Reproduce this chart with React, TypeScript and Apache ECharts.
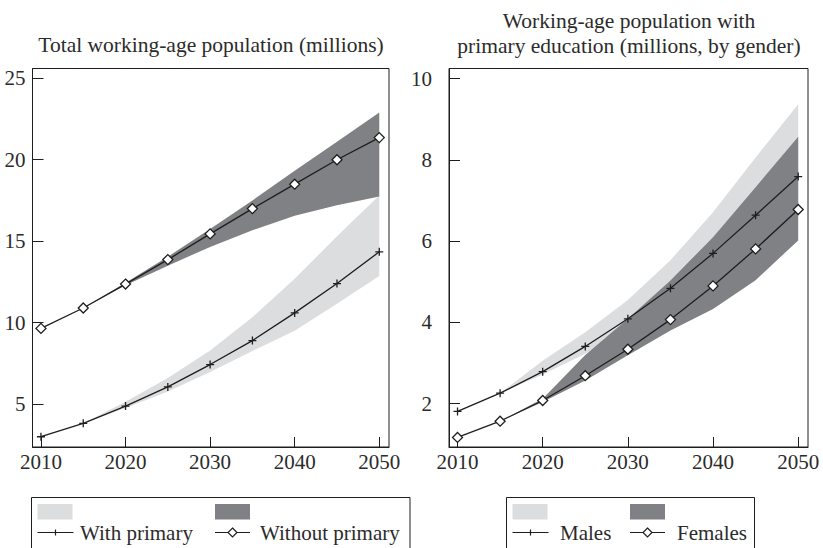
import React, { useEffect, useRef } from "react";
import * as echarts from "echarts";

const years = [2010, 2015, 2020, 2025, 2030, 2035, 2040, 2045, 2050];
const xTicks = [2010, 2020, 2030, 2040, 2050];
const leftYTicks = [5, 10, 15, 20, 25];
const rightYTicks = [2, 4, 6, 8, 10];

// Left panel: total working-age population (millions)
const withPrimary = [3.0, 3.82, 4.88, 6.06, 7.43, 8.9, 10.6, 12.4, 14.35];
const withPrimaryLow = [3.0, 3.82, 4.76, 5.78, 6.98, 8.26, 9.51, 11.16, 12.86];
const withPrimaryHigh = [3.0, 3.82, 5.14, 6.6, 8.3, 10.33, 12.7, 15.3, 17.8];
const withoutPrimary = [9.65, 10.9, 12.37, 13.87, 15.45, 17.0, 18.5, 20.0, 21.36];
const withoutPrimaryLow = [9.65, 10.9, 12.3, 13.5, 14.65, 15.67, 16.57, 17.2, 17.74];
const withoutPrimaryHigh = [9.65, 10.9, 12.45, 14.05, 15.75, 17.5, 19.33, 21.1, 22.9];

// Right panel: working-age population with primary education, by gender
const males = [1.81, 2.26, 2.79, 3.41, 4.09, 4.84, 5.7, 6.64, 7.59];
const malesLow = [1.81, 2.26, 2.72, 3.23, 3.88, 4.6, 5.3, 6.1, 6.9];
const malesHigh = [1.81, 2.26, 3.06, 3.76, 4.55, 5.53, 6.71, 8.06, 9.37];
const females = [1.17, 1.57, 2.08, 2.69, 3.34, 4.07, 4.9, 5.81, 6.78];
const femalesLow = [1.17, 1.57, 2.04, 2.57, 3.19, 3.8, 4.33, 5.04, 6.02];
const femalesHigh = [1.17, 1.57, 2.12, 3.2, 4.09, 5.03, 6.1, 7.33, 8.57];

const leftTitle = "Total working-age population (millions)";
const rightTitle1 = "Working-age population with";
const rightTitle2 = "primary education (millions, by gender)";
const legendLeft = ["With primary", "Without primary"];
const legendRight = ["Males", "Females"];

const LIGHT = "#dcdddf";
const DARK = "#808184";
const INK = "#1e1e1e";
const TEXT = "#2b2b2b";
const FONT = "Liberation Serif";
const PLUS = "path://M5,0L5,10M0,5L10,5";

function band(idx: number, low: number[], high: number[], color: string) {
  return {
    type: "custom",
    xAxisIndex: idx,
    yAxisIndex: idx,
    silent: true,
    z: 1,
    data: [[2030, 0]],
    renderItem: (_p: any, api: any) => {
      const pts: number[][] = [];
      for (let i = 0; i < years.length; i++) pts.push(api.coord([years[i], high[i]]));
      for (let i = years.length - 1; i >= 0; i--) pts.push(api.coord([years[i], low[i]]));
      return { type: "polygon", shape: { points: pts }, style: { fill: color, stroke: null } };
    },
  };
}

function line(idx: number, vals: number[], kind: "plus" | "diamond") {
  return {
    type: "line",
    xAxisIndex: idx,
    yAxisIndex: idx,
    z: 5,
    silent: true,
    data: years.map((y, i) => [y, vals[i]]),
    symbol: kind === "plus" ? PLUS : "diamond",
    symbolSize: kind === "plus" ? 8 : 10,
    showSymbol: true,
    lineStyle: { color: INK, width: 1.3 },
    itemStyle:
      kind === "plus"
        ? { color: INK, borderColor: INK, borderWidth: 1.3 }
        : { color: "#ffffff", borderColor: INK, borderWidth: 1.3 },
    emphasis: { disabled: true },
  };
}

function xAxis(idx: number) {
  return {
    type: "value",
    gridIndex: idx,
    min: 2009,
    max: 2051.15,
    axisLine: { show: true, lineStyle: { color: INK, width: 1 } },
    axisTick: { show: true, inside: true, length: 10, customValues: xTicks, lineStyle: { color: INK } },
    axisLabel: {
      customValues: xTicks,
      formatter: (v: number) => String(v),
      margin: 4,
      color: TEXT,
      fontFamily: FONT,
      fontSize: 21,
    },
    splitLine: { show: false },
  };
}

function yAxis(idx: number, min: number, max: number, ticks: number[], margin: number) {
  return {
    type: "value",
    gridIndex: idx,
    min,
    max,
    axisLine: { show: true, lineStyle: { color: INK, width: 1 } },
    axisTick: { show: true, inside: true, length: 11, customValues: ticks, lineStyle: { color: INK } },
    axisLabel: {
      customValues: ticks,
      formatter: (v: number) => String(v),
      margin,
      color: TEXT,
      fontFamily: FONT,
      fontSize: 21,
    },
    splitLine: { show: false },
  };
}

function txt(x: number, y: number, text: string, align: string, size = 21) {
  return {
    type: "text",
    x,
    y,
    style: { text, fontFamily: FONT, fontSize: size, fill: TEXT, align, verticalAlign: "middle" },
  };
}

function legendGraphics(x0: number, x1: number, darkX: number, t1x: number, t2x: number, labels: string[]) {
  const top = 497.5;
  const swY = 504;
  const lineY = 532.5;
  const els: any[] = [
    { type: "rect", shape: { x: x0, y: top, width: x1 - x0, height: 80 }, style: { fill: "#fff", stroke: INK, lineWidth: 1 } },
    { type: "rect", shape: { x: x0 + 6, y: swY, width: 35, height: 15.5 }, style: { fill: LIGHT } },
    { type: "rect", shape: { x: darkX, y: swY, width: 35, height: 15.5 }, style: { fill: DARK } },
    { type: "line", shape: { x1: x0 + 6, y1: lineY, x2: x0 + 42, y2: lineY }, style: { stroke: INK, lineWidth: 1.2 } },
    { type: "line", shape: { x1: x0 + 24, y1: lineY - 3, x2: x0 + 24, y2: lineY + 3 }, style: { stroke: INK, lineWidth: 1.2 } },
    { type: "line", shape: { x1: darkX, y1: lineY, x2: darkX + 35, y2: lineY }, style: { stroke: INK, lineWidth: 1.2 } },
    {
      type: "polygon",
      shape: { points: [[darkX + 17.5, lineY - 4.5], [darkX + 22, lineY], [darkX + 17.5, lineY + 4.5], [darkX + 13, lineY]] },
      style: { fill: "#fff", stroke: INK, lineWidth: 1.2 },
    },
    txt(t1x, lineY, labels[0], "left"),
    txt(t2x, lineY, labels[1], "left"),
  ];
  return els;
}

export default function App() {
  const ref = useRef<HTMLDivElement>(null);
  useEffect(() => {
    if (!ref.current) return;
    const chart = echarts.init(ref.current, null, { renderer: "svg" });
    const option: any = {
      animation: false,
      backgroundColor: "#ffffff",
      textStyle: { fontFamily: FONT },
      grid: [
        { left: 32.5, top: 68.5, width: 356.5, height: 378.5, show: true, borderColor: INK, borderWidth: 1, backgroundColor: "transparent" },
        { left: 449, top: 68.5, width: 359, height: 378.5, show: true, borderColor: INK, borderWidth: 1, backgroundColor: "transparent" },
      ],
      xAxis: [xAxis(0), xAxis(1)],
      yAxis: [yAxis(0, 2.37, 25.6, leftYTicks, 7), yAxis(1, 0.935, 10.25, rightYTicks, 17)],
      series: [
        band(0, withPrimaryLow, withPrimaryHigh, LIGHT),
        band(0, withoutPrimaryLow, withoutPrimaryHigh, DARK),
        line(0, withPrimary, "plus"),
        line(0, withoutPrimary, "diamond"),
        band(1, malesLow, malesHigh, LIGHT),
        band(1, femalesLow, femalesHigh, DARK),
        line(1, males, "plus"),
        line(1, females, "diamond"),
      ],
      graphic: [
        txt(211, 45, leftTitle, "center", 21.5),
        txt(629, 21, rightTitle1, "center", 21.5),
        txt(629, 46, rightTitle2, "center", 21.5),
        ...legendGraphics(31.5, 410, 215, 80, 260, legendLeft),
        ...legendGraphics(506.5, 754.5, 630, 560, 677, legendRight),
      ],
    };
    chart.setOption(option);
    return () => chart.dispose();
  }, []);
  return <div ref={ref} style={{ position: "absolute", left: 0, top: 0, width: 823, height: 548 }} />;
}
